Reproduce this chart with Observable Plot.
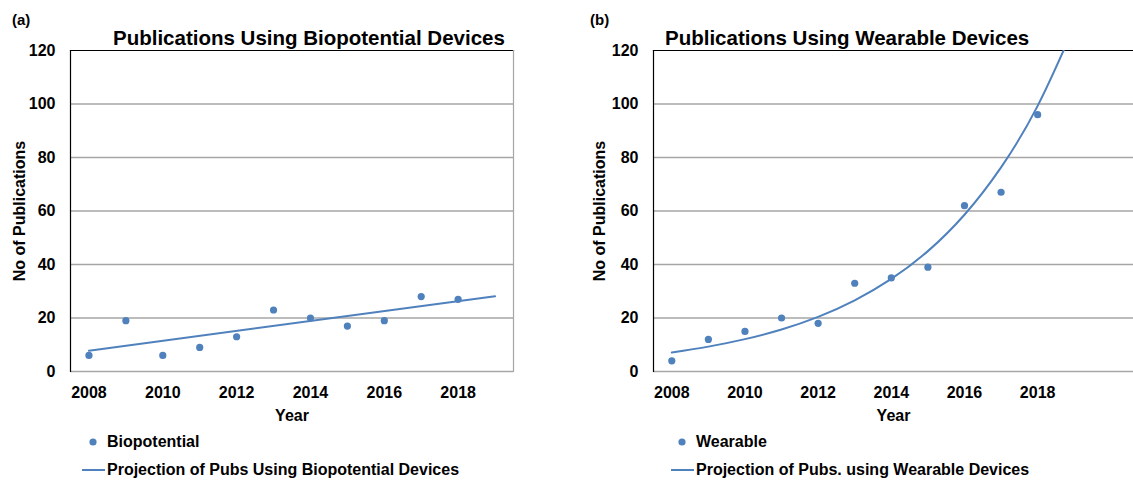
<!DOCTYPE html>
<html>
<head>
<meta charset="utf-8">
<script src="https://cdn.jsdelivr.net/npm/d3@7"></script>
<script src="https://cdn.jsdelivr.net/npm/@observablehq/plot@0.6"></script>
<style>
  html, body { margin: 0; padding: 0; background: #fff; }
  #wrap { position: relative; width: 1133px; height: 481px; overflow: hidden;
          font-family: "Liberation Sans", Arial, sans-serif; color: #000; }
  .panel { position: absolute; top: 0; height: 481px; }
  .panel svg { position: absolute; left: 0; top: 0; }
  .t { position: absolute; font-weight: bold; white-space: nowrap; line-height: 1; }
</style>
</head>
<body>
<div id="wrap"></div>
<script>
// ---------- data ----------
const years = [2008, 2009, 2010, 2011, 2012, 2013, 2014, 2015, 2016, 2017, 2018];
const biopotential = [6, 19, 6, 9, 13, 23, 20, 17, 19, 28, 27];
const wearable = [4, 12, 15, 20, 18, 33, 35, 39, 62, 67, 96];

// projection lines
const bioProjYears = [2008, 2019];
const bioProjValues = [7.8, 28.1];
const wearProjYears = [2008, 2009, 2010, 2011, 2012, 2013, 2014, 2015, 2016, 2017, 2018, 2019];
const wearProjValues = [7.1, 9.3, 12.1, 15.7, 20.4, 26.6, 34.6, 45, 58.6, 76.3, 99.3, 129];

const xTickValues = [2008, 2010, 2012, 2014, 2016, 2018];
const yTickValues = [0, 20, 40, 60, 80, 100, 120];

const panels = [
  {
    tag: "(a)", title: "Publications Using Biopotential Devices",
    seriesName: "Biopotential", projName: "Projection of Pubs Using Biopotential Devices",
    values: biopotential, projYears: bioProjYears, projValues: bioProjValues
  },
  {
    tag: "(b)", title: "Publications Using Wearable Devices",
    seriesName: "Wearable", projName: "Projection of Pubs. using Wearable Devices",
    values: wearable, projYears: wearProjYears, projValues: wearProjValues
  }
];

// ---------- layout / style ----------
const BLUE = "#4F81BD";
const GRID = "#A6A6A6";
const FONT = '"Liberation Sans", Arial, sans-serif';
const layouts = [
  { left: 0, width: 566, marginLeft: 70, marginRight: 53, xDomain: [2007.5, 2019.5], rightFrame: true,
    yLabelOffset: 57, tagX: 12, titleX: 113, dotX: 93, lineX1: 82, lineX2: 105, legTextX: 107 },
  { left: 566, width: 567, marginLeft: 87, marginRight: 0, xDomain: [2007.5, 2020.62], rightFrame: false,
    yLabelOffset: 60, tagX: 24, titleX: 99, dotX: 116, lineX1: 105, lineX2: 128, legTextX: 130 }
];

const wrap = document.getElementById("wrap");

function addText(parent, txt, x, cy, size) {
  const d = document.createElement("div");
  d.className = "t";
  d.textContent = txt;
  d.style.left = x + "px";
  d.style.top = (cy - size / 2) + "px";
  d.style.fontSize = size + "px";
  d.style.height = size + "px";
  d.style.lineHeight = size + "px";
  parent.appendChild(d);
  return d;
}

panels.forEach((p, i) => {
  const L = layouts[i];
  const div = document.createElement("div");
  div.className = "panel";
  div.style.left = L.left + "px";
  div.style.width = L.width + "px";
  wrap.appendChild(div);

  const pts = years.map((y, k) => ({ year: y, value: p.values[k] }));
  const proj = p.projYears.map((y, k) => ({ year: y, value: p.projValues[k] }));

  const marks = [
    Plot.gridY(yTickValues.slice(0, -1), { stroke: GRID, strokeOpacity: 1, strokeWidth: 1.5 }),
    Plot.frame({ anchor: "top", stroke: "#000", strokeWidth: 1.2 }),
    Plot.frame({ anchor: "left", stroke: "#000", strokeWidth: 1.2 }),
  ];
  if (L.rightFrame) marks.push(Plot.frame({ anchor: "right", stroke: GRID, strokeWidth: 1.2 }));
  marks.push(
    Plot.axisY(yTickValues, {
      tickSize: 0, tickPadding: 15, fontSize: 16, fontWeight: "bold",
      label: "No of Publications", labelArrow: "none", labelAnchor: "center", labelOffset: L.yLabelOffset
    }),
    Plot.axisX(xTickValues, {
      tickSize: 0, tickPadding: 15, tickFormat: "d", fontSize: 16, fontWeight: "bold",
      label: "Year", labelArrow: "none", labelAnchor: "center", labelOffset: 49
    }),
    Plot.line(proj, { x: "year", y: "value", stroke: BLUE, strokeWidth: 2, curve: "natural", clip: true }),
    Plot.dot(pts, { x: "year", y: "value", r: 3.6, fill: BLUE, stroke: "none" })
  );

  const chart = Plot.plot({
    width: L.width, height: 481,
    marginLeft: L.marginLeft, marginRight: L.marginRight, marginTop: 50, marginBottom: 110,
    style: { fontFamily: FONT, fontSize: "16px", fontWeight: "bold", color: "#000", background: "transparent", overflow: "visible" },
    x: { domain: L.xDomain },
    y: { domain: [0, 120] },
    marks
  });
  div.appendChild(chart);

  addText(div, p.tag, L.tagX, 19, 15);
  addText(div, p.title, L.titleX, 38, 20.5);

  // legend
  const svgNS = "http://www.w3.org/2000/svg";
  const lg = document.createElementNS(svgNS, "svg");
  lg.setAttribute("width", L.width);
  lg.setAttribute("height", 481);
  lg.style.position = "absolute"; lg.style.left = "0"; lg.style.top = "0";
  const c = document.createElementNS(svgNS, "circle");
  c.setAttribute("cx", L.dotX); c.setAttribute("cy", 442); c.setAttribute("r", 3.6); c.setAttribute("fill", BLUE);
  lg.appendChild(c);
  const ln = document.createElementNS(svgNS, "line");
  ln.setAttribute("x1", L.lineX1); ln.setAttribute("x2", L.lineX2);
  ln.setAttribute("y1", 470); ln.setAttribute("y2", 470);
  ln.setAttribute("stroke", BLUE); ln.setAttribute("stroke-width", 2);
  lg.appendChild(ln);
  div.appendChild(lg);
  addText(div, p.seriesName, L.legTextX, 442, 16);
  addText(div, p.projName, L.legTextX, 470, 16);
});
</script>
</body>
</html>
